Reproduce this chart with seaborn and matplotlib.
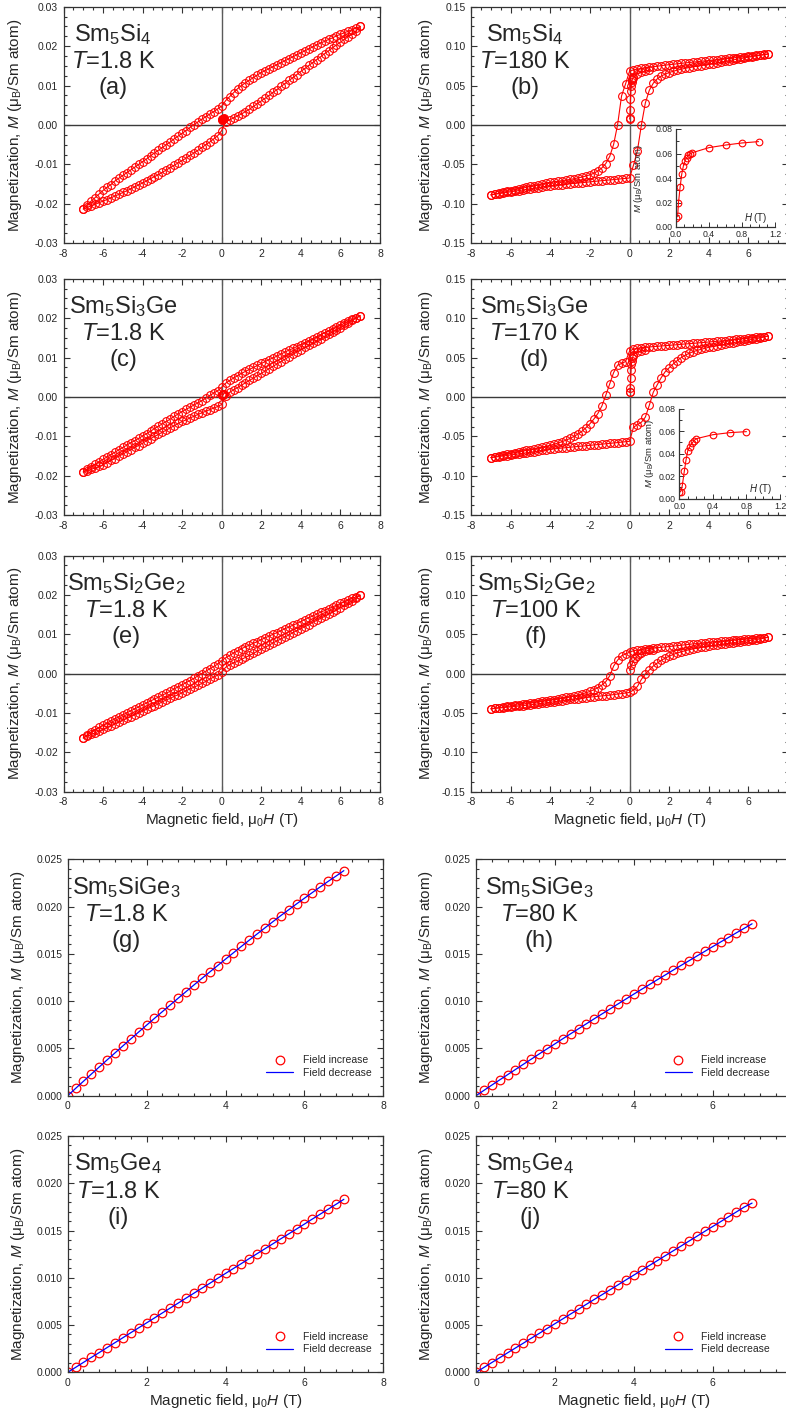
import numpy as np
import matplotlib
matplotlib.use("Agg")
import matplotlib.pyplot as plt
from matplotlib.ticker import MultipleLocator, FormatStrFormatter
import seaborn as sns

# ---------------------------------------------------------------- data
# field sweep points of the hysteresis loops (T)
H_DOWN = [7.0, 6.8, 6.6, 6.4, 6.2, 6.0, 5.8, 5.6, 5.4, 5.2, 5.0, 4.8, 4.6, 4.4, 4.2,
          4.0, 3.8, 3.6, 3.4, 3.2, 3.0, 2.8, 2.6, 2.4, 2.2, 2.0, 1.8, 1.6, 1.4, 1.2,
          1.0, 0.8, 0.6, 0.4, 0.2, 0.0, -0.2, -0.4, -0.6, -0.8, -1.0, -1.2, -1.4,
          -1.6, -1.8, -2.0, -2.2, -2.4, -2.6, -2.8, -3.0, -3.2, -3.4, -3.6, -3.8,
          -4.0, -4.2, -4.4, -4.6, -4.8, -5.0, -5.2, -5.4, -5.6, -5.8, -6.0, -6.2,
          -6.4, -6.6, -6.8, -7.0]
H_UP = H_DOWN[::-1]

# (a) Sm5Si4, 1.8 K
M_A_DOWN = [0.0250, 0.0246, 0.0242, 0.0238, 0.0234, 0.0230, 0.0226, 0.0221, 0.0217, 0.0212,
            0.0208, 0.0203, 0.0198, 0.0193, 0.0188, 0.0183, 0.0178, 0.0173, 0.0168, 0.0163,
            0.0158, 0.0153, 0.0148, 0.0143, 0.0138, 0.0133, 0.0127, 0.0120, 0.0114, 0.0107,
            0.0100, 0.0092, 0.0082, 0.0072, 0.0062, 0.0048, 0.0041, 0.0034, 0.0028, 0.0021,
            0.0015, 0.0008, 0.0001, -0.0006, -0.0014, -0.0021, -0.0028, -0.0035, -0.0043,
            -0.0050, -0.0057, -0.0064, -0.0071, -0.0078, -0.0086, -0.0093, -0.0100, -0.0107,
            -0.0114, -0.0121, -0.0128, -0.0135, -0.0142, -0.0151, -0.0158, -0.0166, -0.0175,
            -0.0184, -0.0193, -0.0202, -0.0213]
M_A_UP = [-0.0213, -0.0209, -0.0205, -0.0201, -0.0197, -0.0193, -0.0189, -0.0185, -0.0180,
          -0.0176, -0.0171, -0.0167, -0.0162, -0.0157, -0.0152, -0.0147, -0.0142, -0.0136,
          -0.0131, -0.0126, -0.0120, -0.0114, -0.0108, -0.0102, -0.0096, -0.0090, -0.0084,
          -0.0077, -0.0071, -0.0064, -0.0057, -0.0050, -0.0043, -0.0035, -0.0027, -0.0014,
          0.0008, 0.0013, 0.0018, 0.0023, 0.0028, 0.0034, 0.0040, 0.0047, 0.0054, 0.0061,
          0.0068, 0.0075, 0.0083, 0.0090, 0.0098, 0.0105, 0.0113, 0.0120, 0.0128, 0.0136,
          0.0143, 0.0151, 0.0158, 0.0166, 0.0173, 0.0181, 0.0188, 0.0196, 0.0203, 0.0210,
          0.0217, 0.0224, 0.0231, 0.0239, 0.0250]
H_A_VIRGIN = [0.0, 0.02, 0.04, 0.06, 0.08, 0.10]
M_A_VIRGIN = [0.0013, 0.0014, 0.0015, 0.0015, 0.0016, 0.0017]

# (c) Sm5Si3Ge, 1.8 K
M_C_DOWN = [0.0206, 0.0201, 0.0197, 0.0192, 0.0187, 0.0182, 0.0177, 0.0172, 0.0168, 0.0163,
            0.0158, 0.0153, 0.0148, 0.0143, 0.0138, 0.0133, 0.0128, 0.0123, 0.0119, 0.0114,
            0.0109, 0.0104, 0.0099, 0.0095, 0.0090, 0.0085, 0.0080, 0.0075, 0.0070, 0.0065,
            0.0060, 0.0054, 0.0048, 0.0042, 0.0035, 0.0025, 0.0016, 0.0010, 0.0004, -0.0003,
            -0.0009, -0.0015, -0.0020, -0.0026, -0.0031, -0.0037, -0.0043, -0.0049, -0.0056,
            -0.0062, -0.0068, -0.0074, -0.0080, -0.0087, -0.0093, -0.0099, -0.0105, -0.0111,
            -0.0116, -0.0122, -0.0128, -0.0134, -0.0140, -0.0146, -0.0152, -0.0158, -0.0164,
            -0.0170, -0.0177, -0.0183, -0.0190]
M_C_UP = [-0.0190, -0.0187, -0.0183, -0.0180, -0.0176, -0.0172, -0.0167, -0.0161, -0.0156,
          -0.0150, -0.0145, -0.0139, -0.0134, -0.0128, -0.0123, -0.0117, -0.0111, -0.0106,
          -0.0100, -0.0095, -0.0089, -0.0084, -0.0078, -0.0073, -0.0067, -0.0062, -0.0058,
          -0.0053, -0.0049, -0.0044, -0.0040, -0.0036, -0.0032, -0.0028, -0.0024, -0.0019,
          0.0003, 0.0012, 0.0018, 0.0024, 0.0030, 0.0036, 0.0042, 0.0048, 0.0054, 0.0060,
          0.0066, 0.0072, 0.0078, 0.0084, 0.0090, 0.0096, 0.0102, 0.0108, 0.0114, 0.0120,
          0.0126, 0.0131, 0.0137, 0.0142, 0.0148, 0.0154, 0.0159, 0.0165, 0.0170, 0.0176,
          0.0182, 0.0188, 0.0194, 0.0200, 0.0206]
H_C_VIRGIN = [0.0, 0.02, 0.04, 0.06, 0.08, 0.10]
M_C_VIRGIN = [0.0005, 0.0006, 0.0006, 0.0007, 0.0007, 0.0008]

# (e) Sm5Si2Ge2, 1.8 K
M_E_DOWN = [0.0199, 0.0195, 0.0191, 0.0187, 0.0182, 0.0178, 0.0174, 0.0169, 0.0165, 0.0160,
            0.0156, 0.0151, 0.0146, 0.0142, 0.0137, 0.0132, 0.0127, 0.0123, 0.0118, 0.0114,
            0.0109, 0.0104, 0.0100, 0.0095, 0.0091, 0.0086, 0.0081, 0.0077, 0.0072, 0.0068,
            0.0063, 0.0057, 0.0052, 0.0046, 0.0040, 0.0033, 0.0024, 0.0018, 0.0012, 0.0006,
            0.0000, -0.0006, -0.0012, -0.0018, -0.0023, -0.0029, -0.0034, -0.0039, -0.0045,
            -0.0050, -0.0055, -0.0060, -0.0065, -0.0070, -0.0075, -0.0080, -0.0085, -0.0090,
            -0.0095, -0.0100, -0.0105, -0.0110, -0.0115, -0.0120, -0.0126, -0.0131, -0.0137,
            -0.0143, -0.0149, -0.0156, -0.0164]
M_E_UP = [-0.0164, -0.0159, -0.0155, -0.0151, -0.0146, -0.0142, -0.0137, -0.0133, -0.0128,
          -0.0124, -0.0119, -0.0114, -0.0110, -0.0105, -0.0101, -0.0096, -0.0091, -0.0086,
          -0.0082, -0.0077, -0.0072, -0.0067, -0.0063, -0.0058, -0.0054, -0.0049, -0.0044,
          -0.0039, -0.0035, -0.0030, -0.0025, -0.0020, -0.0014, -0.0009, -0.0004, 0.0004,
          0.0016, 0.0022, 0.0027, 0.0031, 0.0036, 0.0041, 0.0046, 0.0051, 0.0057, 0.0062,
          0.0067, 0.0072, 0.0078, 0.0083, 0.0088, 0.0093, 0.0098, 0.0104, 0.0109, 0.0114,
          0.0119, 0.0124, 0.0130, 0.0135, 0.0140, 0.0145, 0.0151, 0.0156, 0.0162, 0.0167,
          0.0173, 0.0179, 0.0185, 0.0192, 0.0199]

# (b) Sm5Si4, 180 K
M_B_DOWN = [0.0900, 0.0894, 0.0888, 0.0882, 0.0876, 0.0870, 0.0865, 0.0860, 0.0855, 0.0850,
            0.0845, 0.0840, 0.0834, 0.0829, 0.0823, 0.0818, 0.0813, 0.0808, 0.0802, 0.0797,
            0.0792, 0.0787, 0.0781, 0.0776, 0.0770, 0.0765, 0.0759, 0.0752, 0.0746, 0.0739,
            0.0733, 0.0725, 0.0717, 0.0709, 0.0700, 0.0680, 0.0520, 0.0370, 0.0005, -0.0245,
            -0.0400, -0.0490, -0.0545, -0.0585, -0.0612, -0.0632, -0.0647, -0.0660, -0.0671,
            -0.0681, -0.0690, -0.0698, -0.0705, -0.0712, -0.0719, -0.0726, -0.0737, -0.0747,
            -0.0758, -0.0769, -0.0779, -0.0790, -0.0801, -0.0811, -0.0822, -0.0833, -0.0843,
            -0.0854, -0.0865, -0.0875, -0.0886]
M_B_UP = [-0.0886, -0.0878, -0.0870, -0.0863, -0.0855, -0.0847, -0.0839, -0.0832, -0.0824,
          -0.0816, -0.0808, -0.0801, -0.0793, -0.0785, -0.0778, -0.0770, -0.0765, -0.0760,
          -0.0755, -0.0750, -0.0745, -0.0740, -0.0736, -0.0731, -0.0726, -0.0721, -0.0716,
          -0.0711, -0.0706, -0.0701, -0.0697, -0.0692, -0.0687, -0.0682, -0.0677, -0.0672,
          -0.0510, -0.0325, 0.0000, 0.0280, 0.0440, 0.0530, 0.0585, 0.0620, 0.0645, 0.0665,
          0.0681, 0.0695, 0.0707, 0.0718, 0.0728, 0.0737, 0.0746, 0.0754, 0.0762, 0.0770,
          0.0779, 0.0788, 0.0797, 0.0806, 0.0815, 0.0824, 0.0833, 0.0842, 0.0851, 0.0860,
          0.0868, 0.0876, 0.0884, 0.0892, 0.0900]
H_B_VIRGIN = [0.0, 0.02, 0.03, 0.05, 0.07, 0.09, 0.11, 0.13, 0.15, 0.17, 0.19, 0.4, 0.6, 0.8, 1.0]
M_B_VIRGIN = [0.0075, 0.0090, 0.0196, 0.0327, 0.0433, 0.0500, 0.0540, 0.0566, 0.0585,
              0.0595, 0.0605, 0.0648, 0.0669, 0.0686, 0.0697]

# (d) Sm5Si3Ge, 170 K
M_D_DOWN = [0.0773, 0.0767, 0.0762, 0.0756, 0.0751, 0.0745, 0.0740, 0.0735, 0.0730, 0.0725,
            0.0720, 0.0715, 0.0711, 0.0706, 0.0702, 0.0697, 0.0693, 0.0689, 0.0684, 0.0680,
            0.0676, 0.0672, 0.0668, 0.0663, 0.0659, 0.0655, 0.0651, 0.0647, 0.0643, 0.0639,
            0.0635, 0.0630, 0.0624, 0.0618, 0.0608, 0.0580, 0.0450, 0.0425, 0.0405, 0.0310,
            0.0165, 0.0020, -0.0118, -0.0210, -0.0280, -0.0340, -0.0390, -0.0435, -0.0470,
            -0.0500, -0.0525, -0.0547, -0.0566, -0.0583, -0.0598, -0.0612, -0.0624, -0.0636,
            -0.0647, -0.0658, -0.0668, -0.0678, -0.0688, -0.0698, -0.0707, -0.0717, -0.0726,
            -0.0736, -0.0746, -0.0757, -0.0769]
M_D_UP = [-0.0769, -0.0762, -0.0755, -0.0748, -0.0742, -0.0735, -0.0728, -0.0721, -0.0714,
          -0.0707, -0.0700, -0.0693, -0.0685, -0.0678, -0.0670, -0.0663, -0.0658, -0.0653,
          -0.0647, -0.0642, -0.0637, -0.0632, -0.0627, -0.0623, -0.0618, -0.0613, -0.0608,
          -0.0603, -0.0598, -0.0593, -0.0588, -0.0583, -0.0578, -0.0572, -0.0567, -0.0562,
          -0.0385, -0.0350, -0.0320, -0.0255, -0.0105, 0.0060, 0.0155, 0.0245, 0.0320, 0.0370,
          0.0418, 0.0460, 0.0498, 0.0528, 0.0553, 0.0573, 0.0590, 0.0604, 0.0617, 0.0630,
          0.0640, 0.0650, 0.0659, 0.0668, 0.0680, 0.0688, 0.0697, 0.0705, 0.0714, 0.0722,
          0.0731, 0.0740, 0.0750, 0.0761, 0.0773]
H_D_VIRGIN = [0.0, 0.015, 0.035, 0.06, 0.08, 0.10, 0.125, 0.15, 0.175, 0.2, 0.4, 0.6, 0.8]
M_D_VIRGIN = [0.0059, 0.0062, 0.0113, 0.0246, 0.0344, 0.0424, 0.0462, 0.0492, 0.0516,
              0.0533, 0.0569, 0.0587, 0.0596]

# (f) Sm5Si2Ge2, 100 K
M_F_DOWN = [0.0461, 0.0457, 0.0453, 0.0448, 0.0444, 0.0440, 0.0436, 0.0432, 0.0427, 0.0423,
            0.0419, 0.0415, 0.0411, 0.0406, 0.0402, 0.0398, 0.0392, 0.0387, 0.0381, 0.0376,
            0.0370, 0.0365, 0.0359, 0.0354, 0.0348, 0.0343, 0.0338, 0.0333, 0.0327, 0.0322,
            0.0317, 0.0311, 0.0305, 0.0298, 0.0290, 0.0270, 0.0248, 0.0225, 0.0170, 0.0095,
            -0.0030, -0.0105, -0.0148, -0.0180, -0.0207, -0.0228, -0.0245, -0.0260, -0.0273,
            -0.0285, -0.0296, -0.0305, -0.0314, -0.0323, -0.0331, -0.0340, -0.0347, -0.0354,
            -0.0362, -0.0369, -0.0376, -0.0383, -0.0390, -0.0398, -0.0405, -0.0412, -0.0419,
            -0.0427, -0.0434, -0.0441, -0.0449]
M_F_UP = [-0.0449, -0.0444, -0.0439, -0.0434, -0.0429, -0.0424, -0.0419, -0.0414, -0.0408,
          -0.0403, -0.0398, -0.0392, -0.0385, -0.0379, -0.0372, -0.0366, -0.0359, -0.0352,
          -0.0344, -0.0337, -0.0330, -0.0324, -0.0318, -0.0312, -0.0306, -0.0300, -0.0295,
          -0.0290, -0.0285, -0.0280, -0.0275, -0.0268, -0.0261, -0.0255, -0.0248, -0.0241,
          -0.0210, -0.0165, -0.0075, -0.0005, 0.0045, 0.0095, 0.0132, 0.0166, 0.0195, 0.0220,
          0.0241, 0.0260, 0.0275, 0.0289, 0.0302, 0.0312, 0.0322, 0.0331, 0.0340, 0.0348,
          0.0356, 0.0363, 0.0370, 0.0377, 0.0384, 0.0391, 0.0398, 0.0404, 0.0411, 0.0418,
          0.0425, 0.0432, 0.0440, 0.0449, 0.0461]
H_F_VIRGIN = [0.0, 0.1, 0.2, 0.3, 0.4, 0.5, 0.6, 0.8, 1.0, 1.2]
M_F_VIRGIN = [0.0040, 0.0105, 0.0160, 0.0195, 0.0225, 0.0245, 0.0262, 0.0283, 0.0296, 0.0305]

# field points of the linear M(H) curves (T)
H_LIN = [0.0, 0.2, 0.4, 0.6, 0.8, 1.0, 1.2, 1.4, 1.6, 1.8, 2.0, 2.2, 2.4, 2.6, 2.8, 3.0,
         3.2, 3.4, 3.6, 3.8, 4.0, 4.2, 4.4, 4.6, 4.8, 5.0, 5.2, 5.4, 5.6, 5.8, 6.0, 6.2,
         6.4, 6.6, 6.8, 7.0]
# (g) Sm5SiGe3, 1.8 K
M_G = [0.0, 0.00077, 0.00153, 0.00229, 0.00304, 0.00379, 0.00453, 0.00527, 0.00601,
       0.00674, 0.00746, 0.00818, 0.00889, 0.00960, 0.01031, 0.01101, 0.01171, 0.01240,
       0.01308, 0.01376, 0.01444, 0.01511, 0.01578, 0.01644, 0.01710, 0.01775, 0.01840,
       0.01904, 0.01966, 0.02028, 0.02088, 0.02148, 0.02208, 0.02266, 0.02322, 0.02380]
# (h) Sm5SiGe3, 80 K
M_H = [0.0, 0.00056, 0.00112, 0.00167, 0.00222, 0.00277, 0.00332, 0.00386, 0.00441,
       0.00495, 0.00548, 0.00602, 0.00655, 0.00708, 0.00761, 0.00814, 0.00866, 0.00918,
       0.00970, 0.01022, 0.01074, 0.01125, 0.01176, 0.01227, 0.01277, 0.01328, 0.01378,
       0.01427, 0.01477, 0.01526, 0.01576, 0.01625, 0.01673, 0.01722, 0.01770, 0.01818]
# (i) Sm5Ge4, 1.8 K
M_I = [0.0, 0.00052, 0.00105, 0.00157, 0.00209, 0.00262, 0.00314, 0.00366, 0.00419,
       0.00471, 0.00523, 0.00575, 0.00628, 0.00680, 0.00732, 0.00785, 0.00837, 0.00889,
       0.00941, 0.00994, 0.01046, 0.01098, 0.01150, 0.01203, 0.01255, 0.01307, 0.01359,
       0.01412, 0.01464, 0.01516, 0.01568, 0.01621, 0.01673, 0.01725, 0.01777, 0.01830]
# (j) Sm5Ge4, 80 K
M_J = [0.0, 0.00051, 0.00103, 0.00154, 0.00206, 0.00257, 0.00308, 0.00360, 0.00411,
       0.00463, 0.00514, 0.00565, 0.00617, 0.00668, 0.00720, 0.00771, 0.00822, 0.00874,
       0.00925, 0.00977, 0.01028, 0.01079, 0.01131, 0.01182, 0.01234, 0.01285, 0.01336,
       0.01388, 0.01439, 0.01491, 0.01542, 0.01593, 0.01645, 0.01696, 0.01748, 0.01790]

LOOP_TITLES = {
    "a": ("Sm$_5$Si$_4$", "1.8 K"), "b": ("Sm$_5$Si$_4$", "180 K"),
    "c": ("Sm$_5$Si$_3$Ge", "1.8 K"), "d": ("Sm$_5$Si$_3$Ge", "170 K"),
    "e": ("Sm$_5$Si$_2$Ge$_2$", "1.8 K"), "f": ("Sm$_5$Si$_2$Ge$_2$", "100 K"),
    "g": ("Sm$_5$SiGe$_3$", "1.8 K"), "h": ("Sm$_5$SiGe$_3$", "80 K"),
    "i": ("Sm$_5$Ge$_4$", "1.8 K"), "j": ("Sm$_5$Ge$_4$", "80 K"),
}
YLABEL = r"Magnetization, $M$ ($\mathrm{\mu_B}$/Sm atom)"
XLABEL = r"Magnetic field, $\mathrm{\mu_0}H$ (T)"
INSET_YLABEL = r"$M$ ($\mathrm{\mu_B}$/Sm atom)"
INSET_XLABEL = r"$H$ (T)"

# ---------------------------------------------------------------- style
sns.set_style("ticks")
TXT = "#262626"
plt.rcParams.update({
    "font.family": ["Liberation Sans", "DejaVu Sans"],
    "mathtext.fontset": "custom",
    "mathtext.rm": "Liberation Sans",
    "mathtext.it": "Liberation Sans:italic",
    "mathtext.bf": "Liberation Sans:bold",
    "mathtext.sf": "Liberation Sans",
    "axes.unicode_minus": False,
    "axes.edgecolor": "#333333",
    "axes.linewidth": 0.9,
    "text.color": TXT,
    "axes.labelcolor": TXT,
    "xtick.color": "#333333",
    "ytick.color": "#333333",
    "xtick.labelcolor": TXT,
    "ytick.labelcolor": TXT,
})

RED = "#ff0000"
BLUE = "#0000ff"
W, H = 786, 1420
fig = plt.figure(figsize=(W / 100, H / 100), dpi=100)


def add_axes(x0, y0, x1, y1):
    return fig.add_axes([x0 / W, 1 - y1 / H, (x1 - x0) / W, (y1 - y0) / H])


def style_ticks(ax, xmaj, xmin, ymaj, ymin, fmt, size=7.5):
    ax.xaxis.set_major_locator(MultipleLocator(xmaj))
    ax.xaxis.set_minor_locator(MultipleLocator(xmin))
    ax.yaxis.set_major_locator(MultipleLocator(ymaj))
    ax.yaxis.set_minor_locator(MultipleLocator(ymin))
    ax.yaxis.set_major_formatter(FormatStrFormatter(fmt))
    ax.tick_params(which="both", direction="in", top=True, right=True,
                   labelsize=size, width=0.8, pad=4)
    ax.tick_params(which="major", length=4.5)
    ax.tick_params(which="minor", length=2.5)


def panel_text(ax, key, xfrac):
    comp, temp = LOOP_TITLES[key]
    ax.text(xfrac, 0.935, comp + "\n" + "$T$=" + temp + "\n(" + key + ")",
            transform=ax.transAxes, ha="center", va="top", ma="center",
            fontsize=17, linespacing=1.25, color=TXT)


def draw_branch(ax, h, m, ms=5.6, filled=False):
    sns.lineplot(x=h, y=m, ax=ax, sort=False, estimator=None, color=RED, lw=0.8,
                 marker="o", ms=ms, mec=RED, mew=0.8,
                 mfc=RED if filled else "none", legend=False)


def loop_panel(box, key, down, up, virgin, ylim, ymaj, ymin, xfrac, right_col,
               xlabel=False, virgin_filled=False):
    ax = add_axes(*box)
    ax.axhline(0, color="#3a3a3a", lw=1.0, zorder=1)
    ax.axvline(0, color="#5a5a5a", lw=1.0, zorder=1)
    draw_branch(ax, H_DOWN, down)
    draw_branch(ax, H_UP, up)
    if virgin is not None:
        draw_branch(ax, virgin[0], virgin[1], filled=virgin_filled)
    ax.set_xlim(-8, 8)
    ax.set_ylim(*ylim)
    style_ticks(ax, 2, 0.5, ymaj, ymin, "%.2f")
    ax.set_xticks([-8, -6, -4, -2, 0, 2, 4, 6, 8])
    labels = ["-8", "-6", "-4", "-2", "0", "2", "4", "6", "8"]
    if right_col:
        labels[-1] = ""
    ax.set_xticklabels(labels)
    ax.set_ylabel(YLABEL, fontsize=11)
    ax.yaxis.set_label_coords(-0.125 if not right_col else -0.112, 0.5)
    if xlabel:
        ax.set_xlabel(XLABEL, fontsize=11, labelpad=3)
    else:
        ax.set_xlabel("")
    panel_text(ax, key, xfrac)
    return ax


def inset_panel(box, h, m, ylab_x):
    ax = add_axes(*box)
    ax.set_facecolor("none")
    sns.lineplot(x=h, y=m, ax=ax, sort=False, estimator=None, color=RED, lw=0.8,
                 marker="o", ms=4.8, mec=RED, mew=0.8, mfc="none", legend=False)
    ax.set_xlim(0, 1.2)
    ax.set_ylim(0, 0.08)
    for s in ("top", "right"):
        ax.spines[s].set_visible(False)
    ax.xaxis.set_major_locator(MultipleLocator(0.4))
    ax.xaxis.set_minor_locator(MultipleLocator(0.1))
    ax.yaxis.set_major_locator(MultipleLocator(0.02))
    ax.yaxis.set_minor_locator(MultipleLocator(0.01))
    ax.xaxis.set_major_formatter(FormatStrFormatter("%.1f"))
    ax.yaxis.set_major_formatter(FormatStrFormatter("%.2f"))
    ax.tick_params(which="both", direction="in", labelsize=6.3, width=0.7, pad=2.5,
                   top=False, right=False)
    ax.tick_params(which="major", length=3.5)
    ax.tick_params(which="minor", length=2)
    ax.set_xlabel("")
    ax.set_ylabel(INSET_YLABEL, fontsize=6.8, labelpad=1)
    ax.yaxis.set_label_coords(ylab_x, 0.5)
    ax.text(0.97, 0.002, INSET_XLABEL, ha="center", va="bottom", fontsize=7, color=TXT)
    return ax


def linear_panel(box, key, m_inc, xfrac, right_col, xlabel=False):
    ax = add_axes(*box)
    sns.lineplot(x=H_LIN, y=m_inc, ax=ax, sort=False, estimator=None, color=RED,
                 lw=0, marker="o", ms=6.2, mec=RED, mew=0.9, mfc="none",
                 label="Field increase")
    sns.lineplot(x=H_LIN[::-1], y=m_inc[::-1], ax=ax, sort=False, estimator=None,
                 color=BLUE, lw=0.9, label="Field decrease")
    ax.set_xlim(0, 8)
    ax.set_ylim(0, 0.025)
    style_ticks(ax, 2, 0.4, 0.005, 0.001, "%.3f")
    ax.set_xticks([0, 2, 4, 6, 8])
    ax.set_xticklabels(["0", "2", "4", "6", "" if right_col else "8"])
    ax.set_ylabel(YLABEL, fontsize=11)
    ax.yaxis.set_label_coords(-0.13, 0.5)
    if xlabel:
        ax.set_xlabel(XLABEL, fontsize=11, labelpad=3)
    else:
        ax.set_xlabel("")
    leg = ax.legend(loc="lower right", bbox_to_anchor=(0.985 if not right_col else 0.955, 0.045),
                    frameon=False, fontsize=7.5, handlelength=2.6, handletextpad=0.9,
                    borderpad=0.2, labelspacing=0.25)
    for t in leg.get_texts():
        t.set_color(TXT)
    panel_text(ax, key, xfrac)
    return ax


# ---------------------------------------------------------------- layout
LX0, LX1 = 63.5, 380.0
RX0, RX1 = 471.0, 788.0
ROWS = [(6.7, 243.3), (278.7, 515.3), (555.5, 791.5)]

loop_panel((LX0, ROWS[0][0], LX1, ROWS[0][1]), "a", M_A_DOWN, M_A_UP,
           (H_A_VIRGIN, M_A_VIRGIN), (-0.03, 0.03), 0.01, 0.0025, 0.157, False,
           virgin_filled=True)
loop_panel((RX0, ROWS[0][0], RX1, ROWS[0][1]), "b", M_B_DOWN, M_B_UP,
           (H_B_VIRGIN, M_B_VIRGIN), (-0.15, 0.15), 0.05, 0.0125, 0.17, True)
inset_panel((676, 129, 775, 227), H_B_VIRGIN, M_B_VIRGIN, -0.31)

loop_panel((LX0, ROWS[1][0], LX1, ROWS[1][1]), "c", M_C_DOWN, M_C_UP,
           (H_C_VIRGIN, M_C_VIRGIN), (-0.03, 0.03), 0.01, 0.0025, 0.19, False)
loop_panel((RX0, ROWS[1][0], RX1, ROWS[1][1]), "d", M_D_DOWN, M_D_UP,
           (H_D_VIRGIN, M_D_VIRGIN), (-0.15, 0.15), 0.05, 0.0125, 0.2, True)
inset_panel((679.3, 408.7, 780, 498.7), H_D_VIRGIN, M_D_VIRGIN, -0.23)

loop_panel((LX0, ROWS[2][0], LX1, ROWS[2][1]), "e", M_E_DOWN, M_E_UP,
           None, (-0.03, 0.03), 0.01, 0.0025, 0.198, False, xlabel=True)
loop_panel((RX0, ROWS[2][0], RX1, ROWS[2][1]), "f", M_F_DOWN, M_F_UP,
           (H_F_VIRGIN, M_F_VIRGIN), (-0.15, 0.15), 0.05, 0.0125, 0.205, True, xlabel=True)

BL0, BL1 = 67.7, 383.3
BR0, BR1 = 476.0, 791.5
linear_panel((BL0, 859.3, BL1, 1095.7), "g", M_G, 0.185, False)
linear_panel((BR0, 859.3, BR1, 1095.7), "h", M_H, 0.2, True)
linear_panel((BL0, 1136.0, BL1, 1372.3), "i", M_I, 0.16, False, xlabel=True)
linear_panel((BR0, 1136.0, BR1, 1372.3), "j", M_J, 0.171, True, xlabel=True)

fig.savefig("out.png", dpi=100)
